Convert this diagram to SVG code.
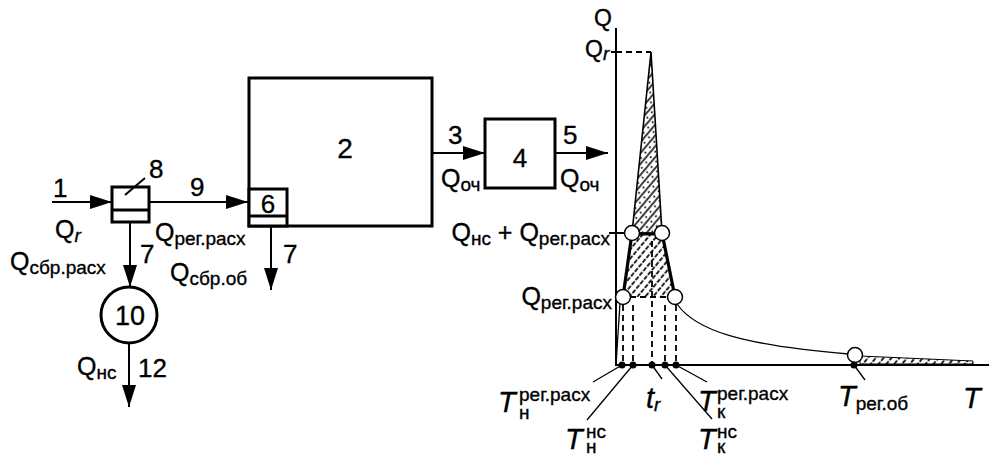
<svg xmlns="http://www.w3.org/2000/svg" width="989" height="457" viewBox="0 0 989 457">
<style>
text{font-family:"Liberation Sans",Arial,sans-serif;fill:#000;stroke:#000;stroke-width:0.35}
.n{font-size:26px}
.q{font-size:25px}
.s{font-size:19px}
.it{font-style:italic}
.T{font-size:29px;font-style:italic}
.ts{font-size:19px;font-style:normal}
.box{fill:#fff;stroke:#000;stroke-width:3}
.ln{fill:none;stroke:#000;stroke-width:2}
.thin{fill:none;stroke:#000;stroke-width:1.3}
.dash{fill:none;stroke:#000;stroke-width:1.8;stroke-dasharray:6 4}
.circ{fill:#fff;stroke:#000;stroke-width:1.5}
</style>
<defs>
<marker id="ah" viewBox="0 0 22 14" refX="22" refY="7" markerWidth="22" markerHeight="14" markerUnits="userSpaceOnUse" orient="auto">
<path d="M0,0 L22,7 L0,14 z" fill="#000"/>
</marker>
<pattern id="h1" patternUnits="userSpaceOnUse" width="7" height="7" patternTransform="rotate(40)">
<line x1="1" y1="0" x2="1" y2="7" stroke="#000" stroke-width="1.5"/>
<circle cx="4.5" cy="3" r="1" fill="#000"/>
</pattern>
<pattern id="h2" patternUnits="userSpaceOnUse" width="6" height="6" patternTransform="rotate(40)">
<line x1="1" y1="0" x2="1" y2="6" stroke="#000" stroke-width="1.7" stroke-dasharray="4 1.5"/>
</pattern>
</defs>

<!-- Nodes -->
<g id="node8">
<rect class="box" x="112" y="187" width="37" height="35"/>
<line x1="112" y1="210" x2="149" y2="210" stroke="#000" stroke-width="3"/>
<line x1="125" y1="195" x2="145" y2="178" class="ln"/>
<text class="n" x="149" y="178">8</text>
</g>
<g id="node2">
<rect class="box" x="249" y="78" width="183" height="148"/>
<text class="n" x="345" y="158" text-anchor="middle" style="font-size:28px">2</text>
</g>
<g id="node6">
<rect class="box" x="249" y="189" width="38" height="37"/>
<line x1="249" y1="216" x2="287" y2="216" stroke="#000" stroke-width="3"/>
<text class="n" x="268" y="213" text-anchor="middle">6</text>
</g>
<g id="node4">
<rect class="box" x="485" y="119" width="70" height="69"/>
<text class="n" x="520" y="167" text-anchor="middle">4</text>
</g>
<g id="node10">
<circle cx="129" cy="315" r="28" fill="#fff" stroke="#000" stroke-width="3"/>
<text class="n" x="130" y="325" text-anchor="middle" style="font-size:27px">10</text>
</g>

<!-- Connectors -->
<g id="connectors">
<line class="ln" x1="52" y1="202" x2="112" y2="202" marker-end="url(#ah)"/>
<line class="ln" x1="149" y1="202" x2="248" y2="202" marker-end="url(#ah)"/>
<line class="ln" x1="130" y1="222" x2="130" y2="287" marker-end="url(#ah)"/>
<line class="ln" x1="129" y1="343" x2="129" y2="407" marker-end="url(#ah)"/>
<line class="ln" x1="271" y1="226" x2="271" y2="290" marker-end="url(#ah)"/>
<line class="ln" x1="432" y1="153" x2="485" y2="153" marker-end="url(#ah)"/>
<line class="ln" x1="555" y1="153" x2="608" y2="153" marker-end="url(#ah)"/>
</g>

<!-- Flow labels -->
<g id="labels">
<text class="n" x="53" y="197">1</text>
<text class="q" x="55" y="238">Q<tspan class="s it" dy="4">r</tspan></text>
<text class="n" x="190" y="196">9</text>
<text class="q" x="155" y="241">Q<tspan class="s" dy="4">рег.расх</tspan></text>
<text class="n" x="140" y="263">7</text>
<text class="q" x="10" y="270">Q<tspan class="s" dy="4">сбр.расх</tspan></text>
<text class="q" x="77" y="375">Q<tspan class="s" dy="4">нс</tspan></text>
<text class="n" x="138" y="377">12</text>
<text class="q" x="170" y="281">Q<tspan class="s" dy="4">сбр.об</tspan></text>
<text class="n" x="283" y="263">7</text>
<text class="n" x="448" y="144">3</text>
<text class="q" x="441" y="187">Q<tspan class="s" dy="4">оч</tspan></text>
<text class="n" x="563" y="144">5</text>
<text class="q" x="560" y="187">Q<tspan class="s" dy="4">оч</tspan></text>
</g>

<!-- Hydrograph -->
<g id="graph">
<polygon points="651,52 632,233 662,233" fill="url(#h1)" stroke="#000" stroke-width="1.6"/>
<polygon points="632,233 662,233 675,297 623,297" fill="url(#h2)" stroke="none"/>
<line x1="632" y1="233" x2="623" y2="297" stroke="#000" stroke-width="3.2"/>
<line x1="662" y1="233" x2="675" y2="297" stroke="#000" stroke-width="3.2"/>
<line x1="638" y1="234" x2="656" y2="234" stroke="#000" stroke-width="3"/>
<polygon points="860,356 973,361 973,364 860,364" fill="url(#h2)" stroke="#000" stroke-width="1"/>
<path class="thin" d="M677,304 C695,330 740,345 849,354"/>
<line class="thin" x1="620" y1="303" x2="616" y2="365"/>
<line class="dash" x1="630" y1="297" x2="668" y2="297"/>
<line class="dash" x1="616" y1="52" x2="651" y2="52"/>
<line class="ln" x1="611" y1="52" x2="616" y2="52"/>
<line class="ln" x1="609" y1="233" x2="625" y2="233"/>
<line class="dash" x1="623" y1="305" x2="623" y2="365"/>
<line class="dash" x1="633" y1="305" x2="633" y2="365"/>
<line class="dash" x1="652" y1="241" x2="652" y2="365"/>
<line class="dash" x1="665" y1="305" x2="665" y2="365"/>
<line class="dash" x1="676" y1="305" x2="676" y2="365"/>
<line x1="616" y1="28" x2="616" y2="365" stroke="#000" stroke-width="2"/>
<line x1="615" y1="365" x2="989" y2="365" stroke="#000" stroke-width="2"/>
<circle class="circ" cx="632" cy="233" r="7.5"/>
<circle class="circ" cx="662" cy="233" r="7.5"/>
<circle class="circ" cx="623" cy="297" r="7.5"/>
<circle class="circ" cx="675" cy="297" r="7.5"/>
<circle class="circ" cx="855" cy="355" r="7.5"/>
<g fill="#000">
<circle cx="622" cy="365" r="3.5"/>
<circle cx="633" cy="365" r="3.5"/>
<circle cx="652" cy="365" r="3.5"/>
<circle cx="665" cy="365" r="3.5"/>
<circle cx="676" cy="365" r="3.5"/>
<circle cx="854" cy="365" r="3.5"/>
</g>
<g class="thin">
<line x1="622" y1="365" x2="593" y2="382"/>
<line x1="633" y1="365" x2="587" y2="420"/>
<line x1="652" y1="365" x2="662" y2="379"/>
<line x1="665" y1="365" x2="712" y2="419"/>
<line x1="676" y1="365" x2="707" y2="382"/>
<line x1="854" y1="365" x2="865" y2="380"/>
</g>
<text class="q" x="594" y="26" style="font-size:23px">Q</text>
<text class="q" x="585" y="57" style="font-size:23px">Q<tspan class="s it" dy="3">r</tspan></text>
<text class="q" x="610" y="241" text-anchor="end">Q<tspan class="s" dy="4">нс</tspan><tspan dy="-4"> + Q</tspan><tspan class="s" dy="4">рег.расх</tspan></text>
<text class="q" x="612" y="305" text-anchor="end">Q<tspan class="s" dy="4">рег.расх</tspan></text>
<text class="T" x="498" y="412">T<tspan class="ts" x="519" y="401">рег.расх</tspan><tspan class="ts" x="519" y="419">н</tspan></text>
<text class="T" x="565" y="449">T<tspan class="ts" x="586" y="438">нс</tspan><tspan class="ts" x="586" y="453">н</tspan></text>
<text class="T" x="646" y="408">t<tspan class="s it" dy="3">r</tspan></text>
<text class="T" x="698" y="411">T<tspan class="ts" x="717" y="400">рег.расх</tspan><tspan class="ts" x="717" y="418">к</tspan></text>
<text class="T" x="698" y="449">T<tspan class="ts" x="717" y="438">нс</tspan><tspan class="ts" x="717" y="453">к</tspan></text>
<text class="T" x="838" y="406">T<tspan class="ts" dy="4">рег.об</tspan></text>
<text class="T" x="963" y="408">T</text>
</g>
</svg>
